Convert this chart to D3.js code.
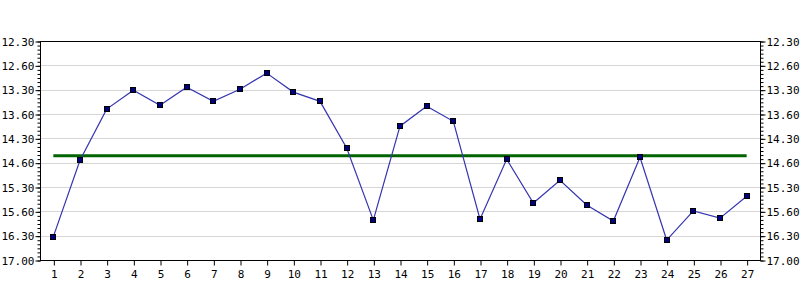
<!DOCTYPE html>
<html>
<head>
<meta charset="utf-8">
<script src="https://cdn.jsdelivr.net/npm/d3@7"></script>
<style>
  html, body { margin: 0; padding: 0; background: #fff; }
  svg { display: block; }
  text { font-family: "DejaVu Sans Mono", monospace; font-size: 11px; fill: #000; }
</style>
</head>
<body>
<svg id="chart" width="800" height="300"></svg>
<script>
// ---- data ----
const categories = d3.range(1, 28).map(String);
const values = [16.52, 14.95, 13.90, 13.51, 13.82, 13.45, 13.74, 13.49, 13.16, 13.55,
                13.74, 14.70, 16.18, 14.25, 13.84, 14.15, 16.16, 14.93, 15.83, 15.36,
                15.87, 16.20, 14.89, 16.59, 15.99, 16.14, 15.69];
const referenceValue = 14.86;
const yTickValues = [12.5, 13, 13.5, 14, 14.5, 15, 15.5, 16, 16.5, 17];
const yTickLabels = ["12.30", "12.60", "13.30", "13.60", "14.30", "14.60", "15.30", "15.60", "16.30", "17.00"];

// ---- layout ----
const plotL = 40, plotR = 760, plotT = 41, plotB = 260;
const svg = d3.select("#chart");

const x = d3.scalePoint().domain(categories).range([plotL, plotR]).padding(0.5);
const y = d3.scaleLinear().domain([12.5, 17]).range([plotT, plotB]);

const minorTicks = d3.range(0, 55).map(i => 12.5 + i / 12);
const labelMap = new Map(yTickValues.map((v, i) => [v, yTickLabels[i]]));

// gridlines
svg.append("g").selectAll("line").data(yTickValues.slice(1, -1)).join("line")
  .attr("x1", plotL).attr("x2", plotR)
  .attr("y1", d => Math.round(y(d)) + 0.5).attr("y2", d => Math.round(y(d)) + 0.5)
  .attr("stroke", "#d6d6d6").attr("stroke-width", 1);

// reference line
svg.append("line")
  .attr("x1", x(categories[0])).attr("x2", x(categories[categories.length - 1]))
  .attr("y1", y(referenceValue)).attr("y2", y(referenceValue))
  .attr("stroke", "#006400").attr("stroke-width", 3);

// frame
svg.append("rect")
  .attr("x", plotL + 0.5).attr("y", plotT + 0.5)
  .attr("width", plotR - plotL).attr("height", plotB - plotT)
  .attr("fill", "none").attr("stroke", "#000").attr("stroke-width", 1);

// y axes
function yAxisGroup(axisGen, xPos, pad) {
  const g = svg.append("g").attr("transform", `translate(${xPos + 0.5},0.5)`);
  g.call(axisGen(y).tickValues(minorTicks).tickSize(3).tickFormat(""));
  g.selectAll("path.domain").remove();
  const g2 = svg.append("g").attr("transform", `translate(${xPos + 0.5},0.5)`);
  g2.call(axisGen(y).tickValues(yTickValues).tickSize(5).tickPadding(pad)
    .tickFormat(d => labelMap.get(d)));
  g2.select("path.domain").remove();
  g2.selectAll(".tick text").style("font-family", '"DejaVu Sans Mono", monospace').style("font-size", "11px");
  return g2;
}
yAxisGroup(d3.axisLeft, plotL, 1);
yAxisGroup(d3.axisRight, plotR, 1);

// x axis
const gx = svg.append("g").attr("transform", `translate(0.5,${plotB + 0.5})`)
  .call(d3.axisBottom(x).tickSize(5).tickPadding(5));
gx.select("path.domain").remove();
gx.selectAll(".tick text").style("font-family", '"DejaVu Sans Mono", monospace').style("font-size", "11px");

// series line
svg.append("path")
  .datum(values)
  .attr("fill", "none")
  .attr("stroke", "#3535b0")
  .attr("stroke-width", 1.2)
  .attr("d", d3.line().x((d, i) => x(categories[i])).y(d => y(d)));

// markers
svg.append("g").selectAll("rect").data(values).join("rect")
  .attr("x", (d, i) => Math.round(x(categories[i])) - 3 + 0.5)
  .attr("y", d => Math.round(y(d)) - 3 + 0.5)
  .attr("width", 5).attr("height", 5)
  .attr("fill", "#000080").attr("stroke", "#000").attr("stroke-width", 1);
</script>
</body>
</html>
